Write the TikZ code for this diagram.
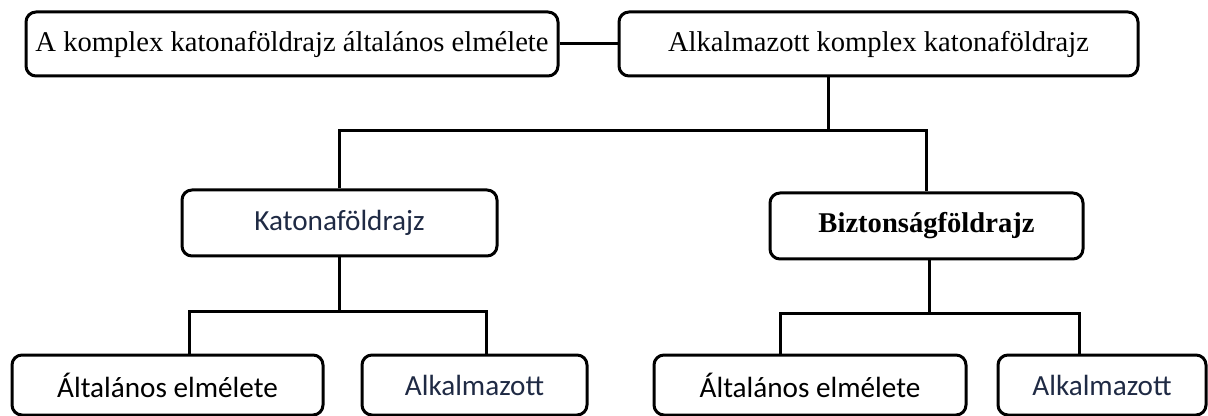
\documentclass[tikz,border=0pt]{standalone}
\usepackage{fontspec}
\setmainfont{Liberation Serif}
\newfontfamily\calfont{Carlito}
\usepackage{xcolor}
\usepackage{tikz}
\usetikzlibrary{positioning}
\definecolor{navy}{HTML}{1F2A44}

\begin{document}
\begin{tikzpicture}[
  x=0.5pt, y=-0.5pt,
  box/.style={draw,rounded corners=5pt,line width=1.5pt,align=center,inner sep=0pt,
              font=\fontsize{14.3}{17}\selectfont,minimum height=32pt},
  lbox/.style={box,font=\calfont\fontsize{14.6}{17}\selectfont},
  link/.style={line width=1.5pt}
]
\useasboundingbox (0,0) rectangle (1208,416);
% top row
\node[box,minimum width=266pt] (gen) at (292,44) {A komplex katonaföldrajz általános elmélete};
\node[box,minimum width=259.5pt] (app) at (878.5,44) {Alkalmazott komplex katonaföldrajz};
% middle row
\node[lbox,minimum width=157.5pt,minimum height=33pt,text=navy] (kat) at (339.5,223) {Katonaföldrajz};
\node[box,minimum width=156.5pt,minimum height=33pt,font=\bfseries\fontsize{14.3}{17}\selectfont] (biz) at (926.5,226) {Biztonságföldrajz};
% bottom row
\node[lbox,minimum width=155.5pt,minimum height=30pt] (kgen) at (167.5,385) {Általános elmélete};
\node[lbox,minimum width=112.5pt,minimum height=30pt,text=navy] (kapp) at (474.5,385) {Alkalmazott};
\node[lbox,minimum width=156pt,minimum height=30pt] (bgen) at (810,385) {Általános elmélete};
\node[lbox,minimum width=104pt,minimum height=30pt,text=navy] (bapp) at (1102,385) {Alkalmazott};
% junctions
\coordinate (top) at (828,131);
\coordinate (kl) at (189,312); \coordinate (kr) at (486,312);
\coordinate (bl) at (780,314); \coordinate (br) at (1079,314);
\coordinate (bm) at (929,314);
% connectors
\draw[link] (gen)--(app);
\draw[link] (app.south -| top)--(top);
\draw[link] (kat.north) |- (top) -| (biz.north);
\draw[link] (kat.south)--(kat.south |- kl);
\draw[link] (kgen.north -| kl)--(kl)--(kr)--(kapp.north -| kr);
\draw[link] (biz.south -| bm)--(bm);
\draw[link] (bgen.north -| bl)--(bl)--(br)--(bapp.north -| br);
\end{tikzpicture}
\end{document}
